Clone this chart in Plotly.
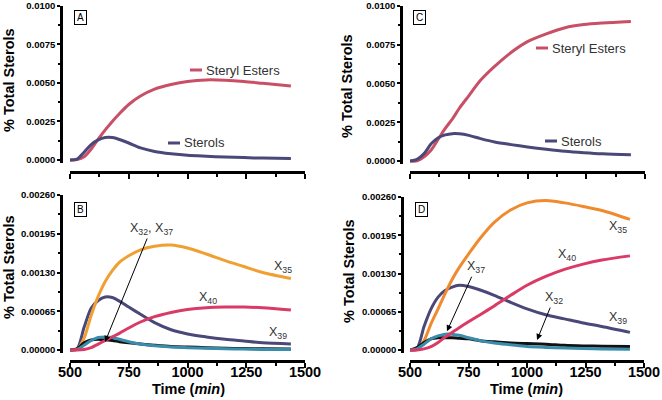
import plotly.graph_objects as go

# time grid (min) shared by every curve
time_min = [500, 530, 560, 590, 620, 650, 680, 710, 750, 800, 860, 930,
            1000, 1080, 1160, 1240, 1320, 1440]

# panel A
a_esters = [0, 0.00002, 0.0002, 0.0007, 0.00135, 0.00195, 0.0025, 0.0030, 0.0036,
            0.00415, 0.0046, 0.0049, 0.0051, 0.0052, 0.00518, 0.0051, 0.00498, 0.0048]
a_sterols = [0, 0.00005, 0.0005, 0.0010, 0.0013, 0.00145, 0.00145, 0.00133, 0.0011,
             0.00078, 0.00055, 0.0004, 0.0003, 0.00024, 0.00019, 0.00015, 0.00012, 0.0001]

# panel C
c_esters = [0, 0, 0.00026, 0.0007, 0.0014, 0.0021, 0.0027, 0.0034, 0.0042,
            0.0052, 0.0061, 0.0070, 0.0077, 0.0082, 0.0086, 0.0088, 0.0089, 0.0090]
c_sterols = [0, 0.0001, 0.00047, 0.0011, 0.0015, 0.00168, 0.00176, 0.00175, 0.00165,
             0.00144, 0.00122, 0.00105, 0.0009, 0.00075, 0.00062, 0.00053, 0.00046, 0.0004]

# panel B
b_x35 = [0, 0.00001, 0.0002, 0.00058, 0.0009, 0.00115, 0.00133, 0.00147, 0.00158,
         0.00168, 0.00174, 0.00176, 0.00171, 0.00161, 0.0015, 0.0014, 0.0013, 0.0012]
b_x40 = [0, 0, 0.00001, 0.00004, 0.0001, 0.00016, 0.00022, 0.00028, 0.00037,
         0.00047, 0.00056, 0.00063, 0.00068, 0.00071, 0.00072, 0.00072, 0.00071, 0.00067]
b_x39 = [0, 0.00002, 0.00038, 0.0007, 0.00083, 0.00089, 0.00088, 0.00082, 0.00072,
         0.0006, 0.00046, 0.00034, 0.00027, 0.00022, 0.00018, 0.00015, 0.00012, 0.0001]
b_x37 = [0, 0.00001, 0.00008, 0.00016, 0.00021, 0.00022, 0.00021, 0.00018, 0.00014,
         0.0001, 0.00007, 0.00005, 0.00004, 0.00003, 0.00002, 0.000015, 0.00001, 0.00001]
b_x32 = [0, 0.00002, 0.00012, 0.00017, 0.00018, 0.00017, 0.00016, 0.00014, 0.00012,
         0.0001, 0.00008, 0.00006, 0.00005, 0.00004, 0.00003, 0.000025, 0.00002, 0.000015]

# panel D
d_x35 = [0, 0.00001, 0.00016, 0.00045, 0.0007, 0.00096, 0.0012, 0.0014, 0.00163,
         0.0019, 0.00217, 0.00238, 0.0025, 0.00254, 0.0025, 0.00244, 0.00237, 0.00222]
d_x40 = [0, 0, 0.00002, 0.00006, 0.00013, 0.00022, 0.0003, 0.00038, 0.00048,
         0.0006, 0.00075, 0.00093, 0.0011, 0.00125, 0.00137, 0.00146, 0.00153, 0.0016]
d_x39 = [0, 0.00003, 0.0004, 0.0007, 0.0009, 0.00101, 0.00107, 0.0011, 0.00108,
         0.00102, 0.00093, 0.00081, 0.0007, 0.0006, 0.00053, 0.00046, 0.0004, 0.0003]
d_x37 = [0, 0.00002, 0.0001, 0.00019, 0.00024, 0.00027, 0.00027, 0.00025, 0.00021,
         0.00016, 0.00012, 0.00009, 0.00006, 0.000045, 0.000035, 0.000025, 0.00002, 0.000015]
d_x32 = [0, 0.00004, 0.00013, 0.00019, 0.00021, 0.00021, 0.00021, 0.0002, 0.00019,
         0.00016, 0.00014, 0.00012, 0.00011, 0.0001, 0.00008, 0.00007, 0.000065, 0.00006]

RED = "#c94f66"
NAVY = "#4a4878"
ORANGE_B = "#f0a032"
ORANGE_D = "#f08a2e"
PINK = "#d93a66"
TEAL = "#3a8cab"
BLACK = "#111111"
FONT = "Liberation Sans, Arial, sans-serif"

W, H = 662, 400


def px(x):
    return x / W


def py(y):
    return 1 - y / H


fig = go.Figure()


def add_line(y, color, xa, ya, width=3):
    fig.add_trace(go.Scatter(
        x=time_min, y=y, mode="lines", xaxis=xa, yaxis=ya,
        line=dict(color=color, width=width, shape="spline", smoothing=0.8),
        showlegend=False, hoverinfo="skip"))


add_line(a_esters, RED, "x", "y")
add_line(a_sterols, NAVY, "x", "y")
add_line(c_esters, RED, "x2", "y2")
add_line(c_sterols, NAVY, "x2", "y2")

add_line(b_x39, NAVY, "x3", "y3")
add_line(b_x35, ORANGE_B, "x3", "y3")
add_line(b_x32, BLACK, "x3", "y3")
add_line(b_x37, TEAL, "x3", "y3")
add_line(b_x40, PINK, "x3", "y3")

add_line(d_x39, NAVY, "x4", "y4")
add_line(d_x35, ORANGE_D, "x4", "y4")
add_line(d_x32, BLACK, "x4", "y4")
add_line(d_x37, TEAL, "x4", "y4")
add_line(d_x40, PINK, "x4", "y4")


def xax(left, right, pos_y, labels):
    return dict(
        domain=[px(left), px(right)], range=[500, 1500], anchor="free",
        position=py(pos_y), automargin=False,
        showline=True, linewidth=2.5, linecolor="black",
        ticks="outside", ticklen=5, tickwidth=2, tickcolor="black",
        dtick=250, tick0=500, showgrid=False, zeroline=False,
        minor=dict(ticks="outside", ticklen=3, tickwidth=2, dtick=125,
                   tick0=500, tickcolor="black"),
        showticklabels=labels, tickprefix="<b>", ticksuffix="</b>",
        ticklabelstandoff=-8,
        tickfont=dict(family=FONT, size=14.5, color="black"))


def yax(top, bottom, pos_x, rng, dtick, fmt):
    return dict(
        domain=[py(bottom), py(top)], range=rng, anchor="free",
        position=px(pos_x), automargin=False,
        showline=True, linewidth=2.5, linecolor="black",
        ticks="outside", ticklen=3, tickwidth=2, tickcolor="black",
        dtick=dtick, tick0=0, tickformat=fmt, showgrid=False, zeroline=False,
        minor=dict(ticks="outside", ticklen=2, tickwidth=1.5, dtick=dtick / 2,
                   tick0=0, tickcolor="black"),
        tickprefix="<b>", ticksuffix="</b>",
        tickfont=dict(family=FONT, size=9.5, color="black"))


annotations = []


def ytitle(x, y):
    annotations.append(dict(
        xref="paper", yref="paper", x=px(x), y=py(y), text="<b>% Total Sterols</b>",
        textangle=-90, showarrow=False, xanchor="center", yanchor="middle",
        font=dict(family=FONT, size=14.5, color="black")))


def xtitle(x, y):
    annotations.append(dict(
        xref="paper", yref="paper", x=px(x), y=py(y), text="<b>Time (<i>min</i>)</b>",
        showarrow=False, xanchor="center", yanchor="middle",
        font=dict(family=FONT, size=14.5, color="black")))


def panel_tag(x, y, letter):
    annotations.append(dict(
        xref="paper", yref="paper", x=px(x), y=py(y), text=letter,
        showarrow=False, bordercolor="black", borderwidth=1, borderpad=1,
        bgcolor="white", width=9, height=11, xanchor="center", yanchor="middle",
        font=dict(family=FONT, size=10, color="black")))


def key_label(x, y, text, color, shapes):
    annotations.append(dict(
        xref="paper", yref="paper", x=px(x), y=py(y), text=text,
        xanchor="left", yanchor="middle", showarrow=False,
        font=dict(family=FONT, size=13, color="#333333")))
    shapes.append(dict(type="line", xref="paper", yref="paper",
                       x0=px(x - 14), x1=px(x - 2), y0=py(y), y1=py(y),
                       line=dict(color=color, width=3)))


def curve_label(xa, ya, t, v, num, ax=None, ay=None):
    a = dict(xref=xa, yref=ya, x=t, y=v, text=num,
             font=dict(family=FONT, size=12.5, color="#333333"))
    if ax is None:
        a.update(showarrow=False, xanchor="center", yanchor="middle")
    else:
        a.update(showarrow=True, ax=ax, ay=ay, arrowhead=2, arrowsize=1.2,
                 arrowwidth=1, arrowcolor="black", standoff=0)
    annotations.append(a)


shapes = []

ytitle(9, 80)
ytitle(347, 86)
ytitle(9, 267)
ytitle(349, 271)
xtitle(188, 389)
xtitle(526, 389)

panel_tag(80.5, 17.5, "A")
panel_tag(419.5, 17.5, "C")
panel_tag(80, 209.5, "B")
panel_tag(421, 209.5, "D")

key_label(204, 70, "Steryl Esters", RED, shapes)
key_label(182, 143, "Sterols", NAVY, shapes)
key_label(550, 48, "Steryl Esters", RED, shapes)
key_label(559, 141, "Sterols", NAVY, shapes)

# panel B labels
curve_label("x3", "y3", 1406, 0.00139, "X<sub>35</sub>")
curve_label("x3", "y3", 1087, 0.00087, "X<sub>40</sub>")
curve_label("x3", "y3", 1385, 0.000285, "X<sub>39</sub>")
curve_label("x3", "y3", 649, 0.000134, "X<sub>32</sub>, X<sub>37</sub>", ax=46, ay=-113)

# panel D labels
curve_label("x4", "y4", 1389, 0.00209, "X<sub>35</sub>")
curve_label("x4", "y4", 1171, 0.00161, "X<sub>40</sub>")
curve_label("x4", "y4", 1389, 0.000544, "X<sub>39</sub>")
curve_label("x4", "y4", 658, 0.00032, "X<sub>37</sub>", ax=29, ay=-64)
curve_label("x4", "y4", 1043, 0.00017, "X<sub>32</sub>", ax=17, ay=-42)

fig.update_layout(
    width=W, height=H, margin=dict(l=0, r=0, t=0, b=0),
    paper_bgcolor="white", plot_bgcolor="white",
    xaxis=xax(70, 305, 172, False),
    yaxis=yax(6, 163, 61, [-0.0002, 0.0100], 0.0025, ".4f"),
    xaxis2=xax(410, 645, 172, False),
    yaxis2=yax(6, 164, 401, [-0.0002, 0.0100], 0.0025, ".4f"),
    xaxis3=xax(70, 305, 361, True),
    yaxis3=yax(195, 353, 61, [-0.00005, 0.0026], 0.00065, ".5f"),
    xaxis4=xax(410, 644, 361, True),
    yaxis4=yax(197, 353, 402, [-0.00005, 0.0026], 0.00065, ".5f"),
    annotations=annotations,
    shapes=shapes,
)

# drop the browser's default 8px body margin so the figure fills the window
fig.write_html("out.html", config={"displayModeBar": False},
               post_script="document.body.style.margin = '0';")
